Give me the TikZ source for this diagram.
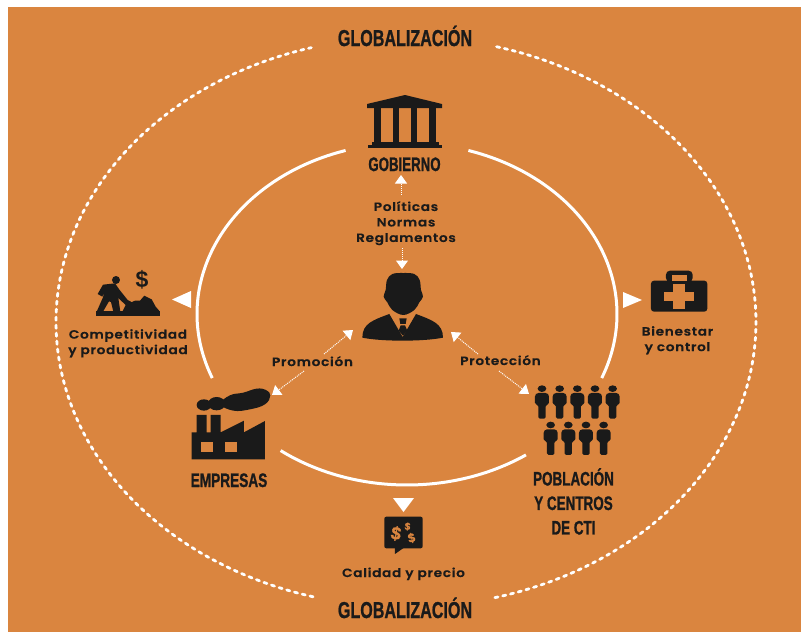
\documentclass[tikz,border=0pt]{standalone}
\usepackage{fontspec}
\usetikzlibrary{arrows.meta}
\newfontfamily\lab{Poppins SemiBold}[LetterSpace=5,FakeBold=0.3]
\newfontfamily\heavy{Liberation Sans Bold}[FakeBold=1.2]
\newfontfamily\plainbold{Liberation Sans Bold}
\definecolor{bgor}{HTML}{DA853F}
\definecolor{ink}{HTML}{1A1A1A}
\tikzset{
  head/.style={font=\heavy\fontsize{19.5}{24.5}\selectfont,text=ink,transform shape,xscale=#1,inner sep=0,anchor=base,align=center},
  glob/.style={font=\heavy\fontsize{23}{24}\selectfont,text=ink,transform shape,xscale=.70,inner sep=0,anchor=base},
  lbl/.style={font=\lab\fontsize{12}{15.5}\selectfont,text=ink,transform shape,xscale=1.14,inner sep=0,anchor=base,align=center},
  solidarc/.style={draw=white,line width=3pt},
  dasharc/.style={draw=white,line width=2.8pt,line cap=round,dash pattern=on 3.2pt off 4.8pt},
  dotarrow/.style={draw=white,line width=1pt,dash pattern=on 1pt off 1pt,-{Triangle[width=12pt,length=8.5pt,fill=white]}},
  bigtip/.style={fill=white,draw=none},
  icon/.style={fill=ink,draw=none},
  hole/.style={fill=bgor,draw=none},
}
\begin{document}
\begin{tikzpicture}[x=1pt,y=-1pt]
\useasboundingbox (0,0) rectangle (801,632);
\fill[white] (0,0) rectangle (801,632);
\fill[bgor] (8,7) rectangle (801,632);

% outer dashed ring
\draw[dasharc] plot[domain=105.4:254.3,samples=160] ({406+350*cos(\x)},{322+285*sin(\x)});
\draw[dasharc] plot[domain=-75:75.3,samples=160] ({406+350*cos(\x)},{322+285*sin(\x)});
% inner solid ring
\draw[solidarc] plot[domain=158:253,samples=90] ({407+210*cos(\x)},{314+171*sin(\x)});
\draw[solidarc] plot[domain=-73:22,samples=90] ({407+210*cos(\x)},{314+171*sin(\x)});
\draw[solidarc] plot[domain=55.5:127,samples=70] ({407+210*cos(\x)},{314+171*sin(\x)});

% headings
\node[glob] (globtop) at (405,46) {GLOBALIZACIÓN};
\node[glob] (globbot) at (405,618) {GLOBALIZACIÓN};
\node[head=.68] (gobierno) at (404.5,171) {GOBIERNO};
\node[head=.70] (empresas) at (229,487) {EMPRESAS};
\node[head=.69,anchor=north] (poblacion) at (573.5,468) {POBLACIÓN\\Y CENTROS\\DE CTI};

% small labels
\node[lbl,anchor=north] (normas) at (406,201) {Políticas\\Normas\\Reglamentos};
\node[lbl] (promo) at (312.5,366) {Promoción};
\node[lbl] (protec) at (500.5,365) {Protección};
\node[lbl,anchor=north] (compet) at (128,329) {Competitividad\\y productividad};
\node[lbl,anchor=north] (bien) at (677.5,326) {Bienestar\\y control};
\node[lbl] (calidad) at (403.5,577) {Calidad y precio};

% government building
\fill[icon] (367,104) -- (405,95) -- (442,104) -- (442,108) -- (367,108) -- cycle;
\foreach \a/\b in {374.3/380.7,392.7/399,410.5/417,429/436}{\fill[icon] (\a,108) rectangle (\b,143);}
\fill[icon] (371.7,142) rectangle (439,145);
\fill[icon] (368,144.5) rectangle (441.7,148);

% executive
\begin{scope}[shift={(355,265)},scale=.3333]
\fill[icon] plot[smooth cycle,tension=.6] coordinates {(145,24) (178,27) (194,45) (198,75) (204,95) (193,112) (178,135) (145,150) (112,135) (97,112) (86,95) (92,75) (96,45) (112,27)};
\fill[icon] (103,147) .. controls (55,165) and (22,175) .. (22,218) .. controls (80,230) and (205,230) .. (264,218) .. controls (264,175) and (230,165) .. (183,147) -- (143,216) -- cycle;
\fill[icon] (133,160) -- (155,160) -- (152,177) -- (136,177) -- cycle;
\fill[icon] (137,181) -- (150,181) -- (157,197) -- (144,212) -- (131,197) -- cycle;
\end{scope}

% miner
\begin{scope}[shift={(85,260)},scale=.3333]
\fill[icon] (33,153) rectangle (225,169);
\fill[icon] (112,155) -- (122,135) -- (150,122) -- (165,122) -- (178,107) -- (200,118) -- (212,140) -- (225,155) -- cycle;
\fill[icon] (93,60) circle (12);
\fill[icon] (54,74) -- (90,70) -- (104,90) -- (128,120) -- (147,130) -- (150,142) -- (125,138) -- (100,114) -- (106,155) -- (85,155) -- (78,126) -- (72,124) -- (54,155) -- (35,155) -- (54,112) -- (58,96) -- (52,110) -- (38,102) -- cycle;
\end{scope}
\node[font=\plainbold\fontsize{23}{24}\selectfont,text=ink,inner sep=0] (dollar) at (142,280) {\$};

% factory
\begin{scope}[shift={(50,250)},scale=.3333]
\fill[icon] (462,465) ellipse (22 and 17);
\fill[icon] (500,461) ellipse (26 and 20);
\fill[icon] plot[smooth cycle,tension=.7] coordinates {(512,462) (540,436) (580,428) (620,416) (648,420) (661,437) (645,463) (600,478) (550,482)};
\fill[icon] (425,628) -- (425,547) -- (440,547) -- (440,495) -- (470,495) -- (470,547) -- (482,547) -- (482,495) -- (512,495) -- (512,547) -- (582,512) -- (582,547) -- (645,513) -- (645,628) -- cycle;
\fill[hole] (454,575) rectangle (490,605);
\fill[hole] (525,575) rectangle (560,605);
\end{scope}

% people
\begin{scope}[shift={(440,260)},scale=.3333]
\foreach \cx/\cy in {306/386,359/386,412/386,465/386,518/386,332/495,385/495,438/495,491/495}{
  \begin{scope}[shift={(\cx,\cy)}]
  \fill[icon] (0,0) ellipse (13 and 10);
  \fill[icon,rounded corners=1.5pt] (-15,13) -- (15,13) -- (21,19) -- (21,47) -- (11,49) -- (11,90) -- (-11,90) -- (-11,49) -- (-21,47) -- (-21,19) -- cycle;
  \end{scope}
}
\end{scope}

% medical case
\begin{scope}[shift={(440,260)},scale=.3333]
\fill[icon,rounded corners=3pt] (633,62) rectangle (802,155);
\fill[icon,rounded corners=4pt] (678,66) -- (678,32) -- (758,32) -- (758,66) -- cycle;
\fill[hole] (695,45) rectangle (742,62);
\fill[hole] (700,73) rectangle (735,147);
\fill[hole] (671,97) rectangle (763,124);
\end{scope}

% price bubble
\begin{scope}[shift={(300,480)},scale=.3333]
\fill[icon,rounded corners=2pt] (253,110) rectangle (368,205);
\fill[icon] (285,203) -- (285,222) -- (312,203) -- cycle;
\end{scope}
\node[font=\heavy\fontsize{18}{18}\selectfont,text=bgor,inner sep=0,rotate=-10] (d1) at (396,533.5) {\$};
\node[font=\heavy\fontsize{10}{10}\selectfont,text=bgor,inner sep=0,rotate=-5] (d2) at (407.5,526.5) {\$};
\node[font=\heavy\fontsize{12.5}{13}\selectfont,text=bgor,inner sep=0,rotate=15] (d3) at (411.5,538) {\$};

% big triangles
\fill[bigtip] (172,299.5) -- (191,291) -- (191,308) -- cycle;
\fill[bigtip] (642,300) -- (623,292) -- (623,308) -- cycle;
\fill[bigtip] (403.5,512) -- (393,498) -- (414,498) -- cycle;

% dotted arrows
\coordinate (a1s) at (401,195); \coordinate (a1e) at (401,175);
\coordinate (a2s) at (402,248); \coordinate (a2e) at (402,269);
\coordinate (a3s) at (304,371); \coordinate (a3e) at (272,395);
\coordinate (a4s) at (324,354); \coordinate (a4e) at (353,330);
\coordinate (a5s) at (478,354); \coordinate (a5e) at (451,332);
\coordinate (a6s) at (499,371); \coordinate (a6e) at (529,394);
\foreach \n in {1,...,6}{\draw[dotarrow] (a\n s) -- (a\n e);}
\end{tikzpicture}
\end{document}
